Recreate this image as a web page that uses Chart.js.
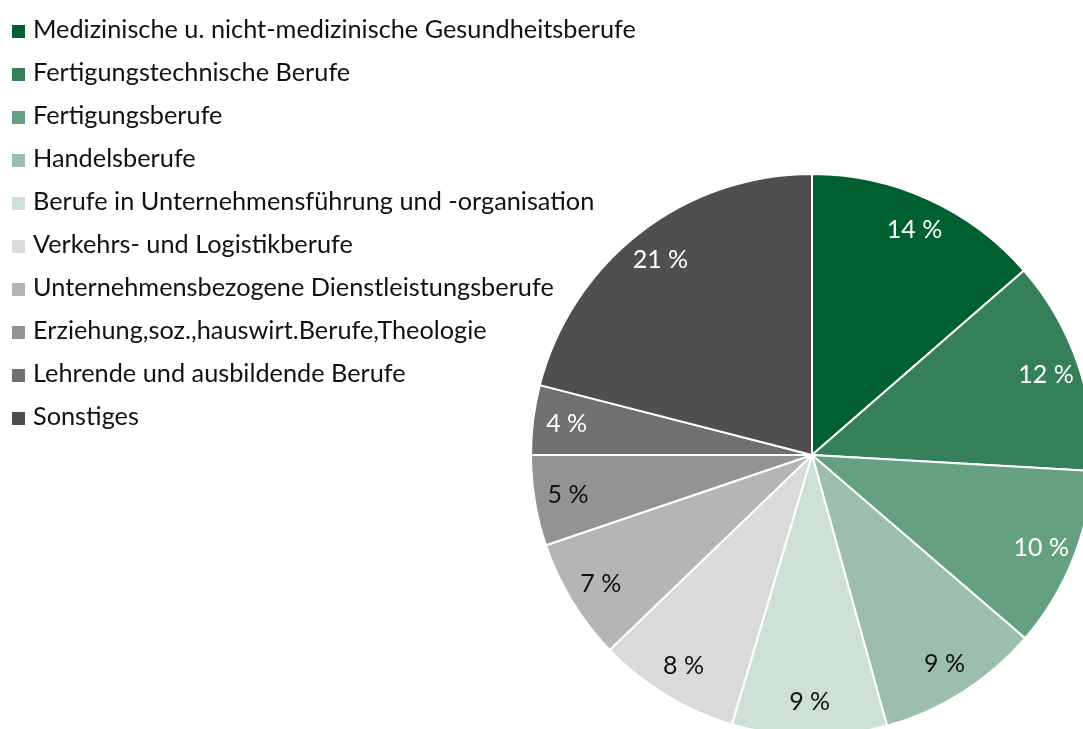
<!DOCTYPE html>
<html>
<head>
<meta charset="utf-8">
<script src="https://cdn.jsdelivr.net/npm/chart.js@4.4.1/dist/chart.umd.min.js"></script>
<style>
    html, body { margin: 0; padding: 0; background: #fff; overflow: hidden; }
    #frame { position: relative; width: 1083px; height: 729px; overflow: hidden; }
    #chart-box { position: absolute; left: 0; top: 0; width: 1094px; height: 737px; }
    #legend { position: absolute; left: 12px; top: 8px; margin: 0; padding: 0; list-style: none;
              font-family: Lato, "Open Sans", sans-serif; font-size: 25.3px; color: #111; }
    #legend li { height: 43px; line-height: 40px; white-space: nowrap; }
    #legend span.box { display: inline-block; width: 13px; height: 13px; margin-right: 8px; vertical-align: 0; }
</style>
</head>
<body>
<div id="frame">
    <div id="chart-box"><canvas id="pie-chart"></canvas></div>
    <ul id="legend"></ul>
</div>
<script>
const categories = [
    'Medizinische u. nicht-medizinische Gesundheitsberufe',
    'Fertigungstechnische Berufe',
    'Fertigungsberufe',
    'Handelsberufe',
    'Berufe in Unternehmensführung und -organisation',
    'Verkehrs- und Logistikberufe',
    'Unternehmensbezogene Dienstleistungsberufe',
    'Erziehung,soz.,hauswirt.Berufe,Theologie',
    'Lehrende und ausbildende Berufe',
    'Sonstiges'
];
const shares = [13.6, 12.3, 10.4, 9.4, 8.9, 8.2, 7.0, 5.2, 4.0, 21.0];
const sliceColors = ['#006030', '#358059', '#66a083', '#9bbfac', '#cce0d6',
                     '#dadada', '#b5b5b5', '#939393', '#707070', '#4f4f4f'];
const labelColors = ['#fff', '#fff', '#fff', '#111', '#111',
                     '#111', '#111', '#111', '#fff', '#fff'];

// legend as plain html
const legendElem = document.getElementById('legend');
categories.forEach((name, i) => {
    const li = document.createElement('li');
    li.innerHTML = `<span class="box" style="background:${sliceColors[i]}"></span>${name}`;
    legendElem.appendChild(li);
});

// percent labels inside the slices
const sliceLabels = {
    id: 'sliceLabels',
    afterDatasetsDraw(chart) {
        const ctx = chart.ctx;
        const meta = chart.getDatasetMeta(0);
        ctx.save();
        ctx.font = '25px Lato, "Open Sans", sans-serif';
        ctx.textAlign = 'center';
        ctx.textBaseline = 'middle';
        meta.data.forEach((arc, i) => {
            const mid = (arc.startAngle + arc.endAngle) / 2;
            const r = arc.outerRadius * 0.88;
            const x = arc.x + Math.cos(mid) * r;
            const y = arc.y + Math.sin(mid) * r;
            ctx.fillStyle = labelColors[i];
            ctx.fillText(Math.round(shares[i]) + ' %', x, y);
        });
        ctx.restore();
    }
};

const ctx = document.getElementById('pie-chart').getContext('2d');
new Chart(ctx, {
    type: 'pie',
    data: {
        labels: categories,
        datasets: [{
            data: shares,
            backgroundColor: sliceColors,
            borderColor: '#ffffff',
            borderWidth: 2
        }]
    },
    options: {
        responsive: true,
        maintainAspectRatio: false,
        animation: false,
        layout: { padding: { left: 530, top: 173, right: 0, bottom: 0 } },
        plugins: {
            legend: { display: false },
            tooltip: { enabled: false }
        }
    },
    plugins: [sliceLabels]
});
</script>
</body>
</html>
